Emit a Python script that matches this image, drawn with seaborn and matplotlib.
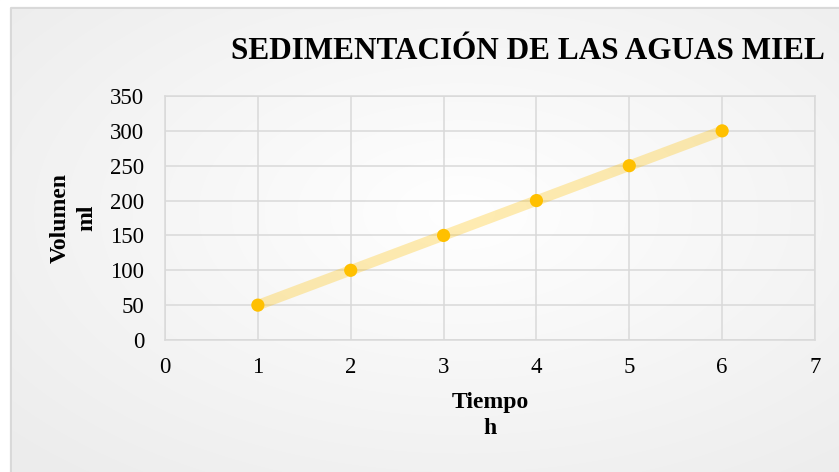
import numpy as np
import pandas as pd
import matplotlib
matplotlib.use("Agg")
import matplotlib.pyplot as plt
import seaborn as sns

tiempo = [1, 2, 3, 4, 5, 6]
volumen = [50, 100, 150, 200, 250, 300]
x_ticks = [0, 1, 2, 3, 4, 5, 6, 7]
y_ticks = [0, 50, 100, 150, 200, 250, 300, 350]
title = "SEDIMENTACIÓN DE LAS AGUAS MIEL"

sns.set_theme(style="white")
plt.rcParams['font.family'] = ['Liberation Serif', 'DejaVu Serif']
plt.rcParams['text.color'] = 'black'
plt.rcParams['axes.labelcolor'] = 'black'

df = pd.DataFrame({"Tiempo": tiempo, "Volumen": volumen})

W, H = 839, 472
fig = plt.figure(figsize=(W / 100, H / 100), dpi=100)

# background gradient
bg = fig.add_axes([0, 0, 1, 1], zorder=-10)
yy, xx = np.mgrid[0:H, 0:W]
r = np.sqrt(((xx - W * 0.55) / (W * 0.6)) ** 2 + ((yy - H * 0.45) / (H * 0.6)) ** 2)
val = 1.0 - 0.06 * np.clip(r, 0, 1.2)
img = np.dstack([val, val, val])
bg.imshow(img, extent=[0, W, H, 0], aspect='auto')
bg.add_patch(plt.Rectangle((0, 0), W, 8, color='white', zorder=2))
bg.add_patch(plt.Rectangle((0, 0), 11, H, color='white', zorder=2))
bg.plot([11, 11, W], [H, 8, 8], color='#d9d9d9', lw=1.6, zorder=3)
bg.set_xlim(0, W)
bg.set_ylim(H, 0)
bg.axis('off')

ax = fig.add_axes([165 / W, 1 - 340 / H, 650 / W, 244 / H])
ax.patch.set_alpha(0)

sns.lineplot(data=df, x="Tiempo", y="Volumen", ax=ax, color='#ffc000', alpha=0.3,
             lw=7.5, solid_capstyle='butt', zorder=2)
sns.scatterplot(data=df, x="Tiempo", y="Volumen", ax=ax, color='#ffc000', s=90,
                edgecolor='none', zorder=3)

ax.set_xlim(0, 7)
ax.set_ylim(0, 350)
ax.set_xticks(x_ticks)
ax.set_yticks(y_ticks)
ax.grid(True, color='#d9d9d9', lw=1.1)
for s in ax.spines.values():
    s.set_color('#d9d9d9')
    s.set_linewidth(1.1)
ax.tick_params(axis='both', length=0, labelsize=16.5, colors='black')
ax.tick_params(axis='x', pad=12)
ax.tick_params(axis='y', pad=15)

ax.set_xlabel("Tiempo\nh", fontsize=17, fontweight='bold', labelpad=10,
              linespacing=1.35, color='black')
ax.set_ylabel("Volumen\nml", fontsize=17, fontweight='bold', labelpad=9,
              linespacing=1.35, color='black')

fig.text(528 / W, 1 - 59 / H, title, ha='center', va='baseline', fontsize=22.5,
         fontweight='bold', color='black')

fig.savefig("out.png", dpi=100)
